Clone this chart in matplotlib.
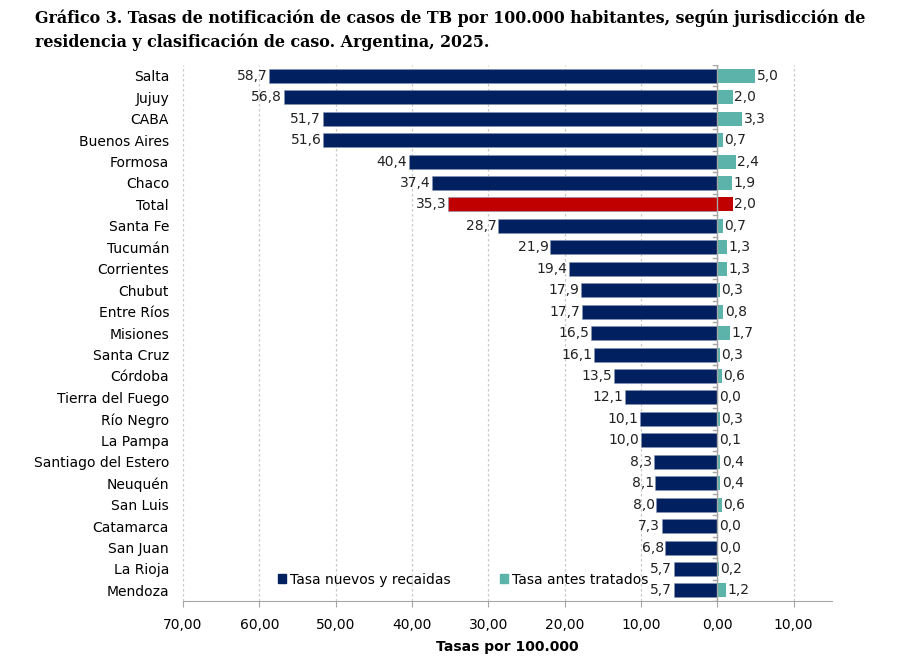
import matplotlib
matplotlib.use("Agg")
import matplotlib.pyplot as plt
from matplotlib.ticker import FuncFormatter, MultipleLocator
from matplotlib.patches import Patch

# datos
jurisdicciones = ['Salta', 'Jujuy', 'CABA', 'Buenos Aires', 'Formosa', 'Chaco', 'Total',
                  'Santa Fe', 'Tucumán', 'Corrientes', 'Chubut', 'Entre Ríos', 'Misiones',
                  'Santa Cruz', 'Córdoba', 'Tierra del Fuego', 'Río Negro', 'La Pampa',
                  'Santiago del Estero', 'Neuquén', 'San Luis', 'Catamarca', 'San Juan',
                  'La Rioja', 'Mendoza']
tasa_nuevos = [58.7, 56.8, 51.7, 51.6, 40.4, 37.4, 35.3, 28.7, 21.9, 19.4, 17.9, 17.7, 16.5,
               16.1, 13.5, 12.1, 10.1, 10.0, 8.3, 8.1, 8.0, 7.3, 6.8, 5.7, 5.7]
tasa_antes = [5.0, 2.0, 3.3, 0.7, 2.4, 1.9, 2.0, 0.7, 1.3, 1.3, 0.3, 0.8, 1.7,
              0.3, 0.6, 0.0, 0.3, 0.1, 0.4, 0.4, 0.6, 0.0, 0.0, 0.2, 1.2]

navy = '#002060'
teal = '#5BB3A9'
red = '#C00000'

plt.rcParams['font.family'] = ['DejaVu Sans']

fig = plt.figure(figsize=(9.08, 6.57), dpi=100)
ax = fig.add_axes([0.2015, 0.085, 0.7145, 0.816])

y = list(range(len(jurisdicciones)))
col_n = [red if j == 'Total' else navy for j in jurisdicciones]
col_a = [red if j == 'Total' else teal for j in jurisdicciones]

ax.barh(y, [-v for v in tasa_nuevos], height=0.65, color=col_n, edgecolor='#8896b3', linewidth=0.4, zorder=3)
ax.barh(y, tasa_antes, height=0.65, color=col_a, zorder=3)

for i, (n, a) in enumerate(zip(tasa_nuevos, tasa_antes)):
    ax.text(-n - 0.2, i, f"{n:.1f}".replace('.', ','), ha='right', va='center', fontsize=10, color='#222222', zorder=4)
    ax.text(a + 0.2, i, f"{a:.1f}".replace('.', ','), ha='left', va='center', fontsize=10, color='#222222', zorder=4)

ax.set_xlim(-70, 15)
ax.set_ylim(24.5, -0.5)
ax.xaxis.set_major_locator(MultipleLocator(10))
ax.xaxis.set_major_formatter(FuncFormatter(lambda v, p: f"{abs(v):.2f}".replace('.', ',')))
ax.set_yticks(y)
ax.set_yticklabels(jurisdicciones, fontsize=10)
ax.tick_params(axis='y', length=0, pad=10)
ax.tick_params(axis='x', labelsize=10, length=4, color='#a6a6a6', pad=8)

ax.grid(axis='x', linestyle=(0, (2, 2)), color='#c8c8c8', linewidth=0.9, zorder=0)
for s in ['top', 'right', 'left']:
    ax.spines[s].set_visible(False)
ax.spines['bottom'].set_color('#a6a6a6')
ax.axvline(0, color='#a6a6a6', linewidth=1, zorder=5)
for i in range(len(jurisdicciones) + 1):
    ax.plot([-0.5, 0], [i - 0.5, i - 0.5], color='#a6a6a6', linewidth=1, zorder=5)

ax.set_xlabel('Tasas por 100.000', fontsize=10, fontweight='bold', labelpad=6)

handles = [Patch(color=navy, label='Tasa nuevos y recaidas'),
           Patch(color=teal, label='Tasa antes tratados')]
ax.legend(handles=handles, ncol=2, frameon=False, fontsize=10, handlelength=0.6, handleheight=0.6,
          handletextpad=0.3, columnspacing=3.5, loc='center', bbox_to_anchor=(0.432, 0.04))

fig.text(0.038, 0.972, 'Gráfico 3. Tasas de notificación de casos de TB por 100.000 habitantes, según jurisdicción de',
         fontsize=11.4, fontweight='bold', family='DejaVu Serif', ha='left', va='center')
fig.text(0.038, 0.936, 'residencia y clasificación de caso. Argentina, 2025.',
         fontsize=11.4, fontweight='bold', family='DejaVu Serif', ha='left', va='center')

fig.savefig('out.png', dpi=100)
